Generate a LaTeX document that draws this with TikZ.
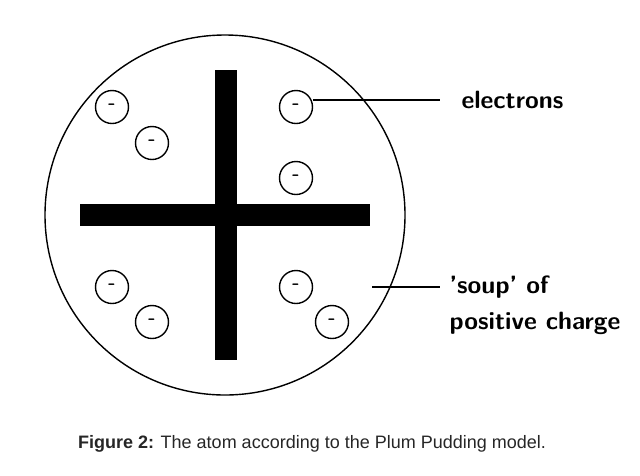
\documentclass[tikz,border=0pt]{standalone}
\usepackage{fontspec}
\newfontfamily\capfont{Liberation Sans}
\begin{document}
\begin{tikzpicture}[x=1pt,y=-1pt,
  el/.style={circle,draw,line width=1.4pt,minimum size=33pt,inner sep=0pt,font=\sffamily\bfseries\fontsize{21}{21}\selectfont},
  lab/.style={font=\sffamily\bfseries\fontsize{25}{36}\selectfont,anchor=west,align=left},
  ln/.style={line width=1.4pt}]
\useasboundingbox (0,0) rectangle (640,475);
\node[circle,draw,line width=1.4pt,minimum size=360pt,inner sep=0pt] (atom) at (225,215) {};
\fill (215,70) rectangle (237,360);
\fill (80,204) rectangle (370,226);
\foreach \n/\x/\y in {a/112/107,b/152/143,c/296/107,d/296/178,e/112/287,f/152/322,g/296/287,h/332/322}
  \node[el] (\n) at (\x,\y) {-};
\coordinate (e1) at (440,100);
\coordinate (s0) at (372,287);
\coordinate (s1) at (440,287);
\draw[ln] (c.east) ++(0,-7) coordinate (c1) -- (e1);
\draw[ln] (s0) -- (s1);
\node[lab] (elab) at (458,100) {electrons};
\node[lab,anchor=west] (slab) at (446,305) {'soup' of\\positive charge};
\node[font=\capfont\fontsize{18}{20}\selectfont,text=black!85] (cap) at (312,444) {\textbf{Figure 2:} The atom according to the Plum Pudding model.};
\end{tikzpicture}
\end{document}
